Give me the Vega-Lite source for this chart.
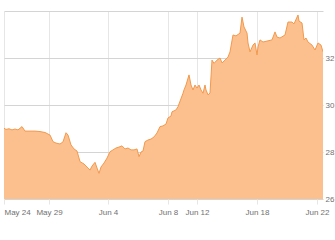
{
  "$schema": "https://vega.github.io/schema/vega-lite/v6.json",
  "autosize": "none",
  "width": 319,
  "height": 188,
  "padding": {"left": 4, "top": 11, "right": 12, "bottom": 41},
  "background": "white",
  "config": {"view": {"stroke": null}},
  "data": {"values": [
    {"t":0,"v":29.01},{"t":2,"v":28.96},{"t":5,"v":28.99},{"t":8,"v":28.94},{"t":11,"v":28.98},{"t":14,"v":28.94},
    {"t":18,"v":29.08},{"t":21,"v":28.89},{"t":26,"v":28.89},{"t":31,"v":28.89},{"t":36,"v":28.87},{"t":41,"v":28.83},
    {"t":46,"v":28.72},{"t":49,"v":28.44},{"t":52,"v":28.38},{"t":56,"v":28.34},{"t":59,"v":28.43},{"t":62,"v":28.82},
    {"t":64,"v":28.72},{"t":67,"v":28.30},{"t":70,"v":28.13},{"t":73,"v":28.04},{"t":76,"v":27.59},{"t":80,"v":27.49},
    {"t":83,"v":27.36},{"t":86,"v":27.23},{"t":88,"v":27.40},{"t":91,"v":27.56},{"t":93,"v":27.32},{"t":95,"v":27.09},
    {"t":97,"v":27.36},{"t":100,"v":27.53},{"t":103,"v":27.74},{"t":106,"v":28.01},{"t":109,"v":28.09},{"t":112,"v":28.17},
    {"t":115,"v":28.21},{"t":118,"v":28.26},{"t":121,"v":28.13},{"t":124,"v":28.17},{"t":127,"v":28.09},{"t":130,"v":28.09},
    {"t":133,"v":28.13},{"t":135,"v":27.80},{"t":137,"v":28.00},{"t":139,"v":28.04},{"t":141,"v":28.44},{"t":144,"v":28.51},
    {"t":147,"v":28.55},{"t":150,"v":28.64},{"t":153,"v":28.81},{"t":156,"v":29.08},{"t":159,"v":29.11},{"t":162,"v":29.19},
    {"t":164,"v":29.45},{"t":167,"v":29.53},{"t":168,"v":29.71},{"t":172,"v":29.79},{"t":174,"v":29.93},{"t":179,"v":30.50},
    {"t":180,"v":30.64},{"t":182,"v":30.85},{"t":185,"v":31.28},{"t":187,"v":30.85},{"t":189,"v":30.64},{"t":191,"v":30.85},
    {"t":193,"v":30.72},{"t":195,"v":30.85},{"t":197,"v":30.64},{"t":199,"v":30.50},{"t":201,"v":30.85},{"t":202,"v":30.64},
    {"t":204,"v":30.43},{"t":206,"v":30.51},{"t":208,"v":31.91},{"t":210,"v":31.77},{"t":213,"v":31.91},{"t":216,"v":32.00},
    {"t":218,"v":31.79},{"t":221,"v":31.91},{"t":224,"v":32.04},{"t":226,"v":32.26},{"t":229,"v":32.98},{"t":232,"v":32.94},
    {"t":236,"v":33.06},{"t":238,"v":33.74},{"t":240,"v":33.32},{"t":243,"v":33.06},{"t":244,"v":32.64},{"t":246,"v":32.26},
    {"t":249,"v":32.55},{"t":251,"v":32.64},{"t":253,"v":32.13},{"t":254,"v":32.47},{"t":256,"v":32.77},{"t":259,"v":32.68},
    {"t":263,"v":32.72},{"t":268,"v":32.77},{"t":271,"v":33.11},{"t":273,"v":32.89},{"t":276,"v":32.85},{"t":281,"v":32.98},
    {"t":284,"v":33.53},{"t":288,"v":33.53},{"t":290,"v":33.45},{"t":294,"v":33.83},{"t":295,"v":33.57},{"t":298,"v":33.49},
    {"t":300,"v":32.77},{"t":302,"v":32.85},{"t":304,"v":32.68},{"t":308,"v":32.55},{"t":311,"v":32.34},{"t":314,"v":32.64},
    {"t":317,"v":32.55},{"t":319,"v":32.26}
  ]},
  "mark": {"type": "area", "color": "#fcc08e", "fillOpacity": 1, "line": {"color": "#f2994c", "strokeWidth": 1}, "clip": true},
  "encoding": {
    "x": {
      "field": "t", "type": "quantitative", "title": null,
      "scale": {"domain": [0, 319], "nice": false, "zero": false},
      "axis": {
        "values": [0, 45, 104, 164, 193, 253, 313],
        "labelExpr": "{'0':'May 24','45':'May 29','104':'Jun 4','164':'Jun 8','193':'Jun 12','253':'Jun 18','313':'Jun 22'}[datum.value + '']",
        "labelFlush": true,
        "grid": true, "gridColor": "#e6e6e6", "gridWidth": 1,
        "domain": false, "ticks": true, "tickSize": 5, "tickColor": "#e6e6e6",
        "labelFont": "Liberation Sans", "labelOverlap": false,
        "labelFontSize": 8, "labelColor": "#707070", "labelPadding": 4
      }
    },
    "y": {
      "field": "v", "type": "quantitative", "title": null,
      "scale": {"domain": [26, 34], "nice": false, "zero": false},
      "axis": {
        "orient": "right",
        "values": [26, 28, 30, 32, 34],
        "labelExpr": "datum.value == 34 ? '' : datum.label",
        "grid": true, "gridColor": "#d4d4d4", "gridWidth": 1,
        "domain": false, "ticks": false,
        "labelFont": "Liberation Sans",
        "labelFontSize": 8, "labelColor": "#707070", "labelPadding": 2
      }
    }
  }
}
